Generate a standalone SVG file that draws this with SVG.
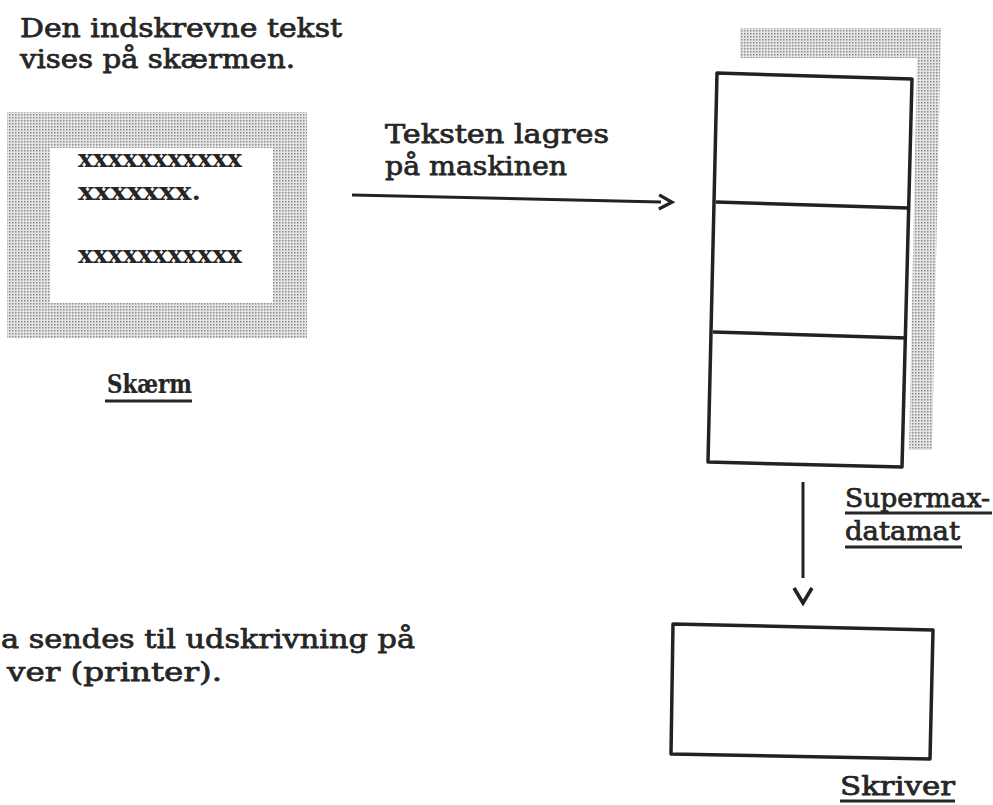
<svg xmlns="http://www.w3.org/2000/svg" width="993" height="805" viewBox="0 0 993 805">
<style>
.t{font-family:"DejaVu Serif","Liberation Serif",serif;font-size:26px;fill:#262626;stroke:#262626;stroke-width:0.75}
.x{font-family:"DejaVu Serif","Liberation Serif",serif;font-size:25px;font-weight:bold;fill:#262626}
.b{font-weight:bold;stroke-width:0.2}
.u{stroke:#262626;stroke-width:3;fill:none}
.box{fill:#fff;stroke:#222;stroke-width:3.5;stroke-linejoin:round}
.div{stroke:#222;stroke-width:3.5}
.conn{stroke:#222;stroke-width:3;fill:none}
.shade{fill:url(#dots)}
</style>
<defs>
<pattern id="dots" width="3" height="3" patternUnits="userSpaceOnUse">
<rect width="3" height="3" fill="#e4e4e4"/>
<rect width="1.5" height="1.5" fill="#8c8c8c"/>
</pattern>
<marker id="chev" markerUnits="userSpaceOnUse" markerWidth="40" markerHeight="40" refX="0" refY="0" orient="auto" overflow="visible">
<path d="M-2,-7 L11,0 L-2,7" fill="none" stroke="#222" stroke-width="3.2" stroke-linejoin="miter"/>
</marker>
<marker id="vee" markerUnits="userSpaceOnUse" markerWidth="40" markerHeight="40" refX="0" refY="0" orient="auto" overflow="visible">
<path d="M10,-9 L25,0 L10,9" fill="none" stroke="#222" stroke-width="3.6"/>
</marker>
</defs>
<rect width="993" height="805" fill="#fff"/>

<g id="intro-text">
<text class="t" x="20" y="37" textLength="322" lengthAdjust="spacingAndGlyphs">Den indskrevne tekst</text>
<text class="t" x="20" y="68" textLength="275" lengthAdjust="spacingAndGlyphs">vises på skærmen.</text>
</g>

<g id="skaerm">
<rect class="shade" x="7" y="112" width="300" height="226"/>
<rect x="50" y="148" width="223" height="155" fill="#fff"/>
<text class="x" x="78" y="167" textLength="164" lengthAdjust="spacingAndGlyphs">xxxxxxxxxxx</text>
<text class="x" x="78" y="200" textLength="123" lengthAdjust="spacingAndGlyphs">xxxxxxx.</text>
<text class="x" x="78" y="263" textLength="164" lengthAdjust="spacingAndGlyphs">xxxxxxxxxxx</text>
<text class="t b" x="107" y="393" textLength="85" lengthAdjust="spacingAndGlyphs">Skærm</text>
<line class="u" x1="105" y1="401" x2="192" y2="401"/>
</g>

<g id="lagres-label">
<text class="t" x="385" y="143" textLength="224" lengthAdjust="spacingAndGlyphs">Teksten lagres</text>
<text class="t" x="385" y="175" textLength="182" lengthAdjust="spacingAndGlyphs">på maskinen</text>
</g>

<g id="supermax">
<path class="shade" d="M740,28 L941,28 L932,450 L909,450 L917,58 L740,58 Z"/>
<polygon class="box" points="717,73 912,79 902,467 708,462"/>
<line class="div" x1="716" y1="202" x2="908" y2="208"/>
<line class="div" x1="713" y1="332" x2="906" y2="338"/>
<text class="t" x="845" y="507" textLength="145" lengthAdjust="spacingAndGlyphs">Supermax-</text>
<line class="u" x1="845" y1="513" x2="992" y2="513"/>
<text class="t" x="845" y="540" textLength="115" lengthAdjust="spacingAndGlyphs">datamat</text>
<line class="u" x1="845" y1="547" x2="962" y2="547"/>
</g>

<g id="skriver">
<polygon class="box" points="673,624 933,630 930,759 671,754"/>
<text class="t" x="840" y="795" textLength="115" lengthAdjust="spacingAndGlyphs">Skriver</text>
<line class="u" x1="840" y1="801" x2="955" y2="801"/>
</g>

<g id="udskrivning-text">
<text class="t" x="1" y="648" textLength="414" lengthAdjust="spacingAndGlyphs">a sendes til udskrivning på</text>
<text class="t" x="7" y="681" textLength="215" lengthAdjust="spacingAndGlyphs">ver (printer).</text>
</g>

<g id="connectors">
<line class="conn" x1="352" y1="195" x2="661" y2="202" marker-end="url(#chev)"/>
<line class="conn" x1="803" y1="482" x2="803" y2="578" marker-end="url(#vee)"/>
</g>
</svg>
